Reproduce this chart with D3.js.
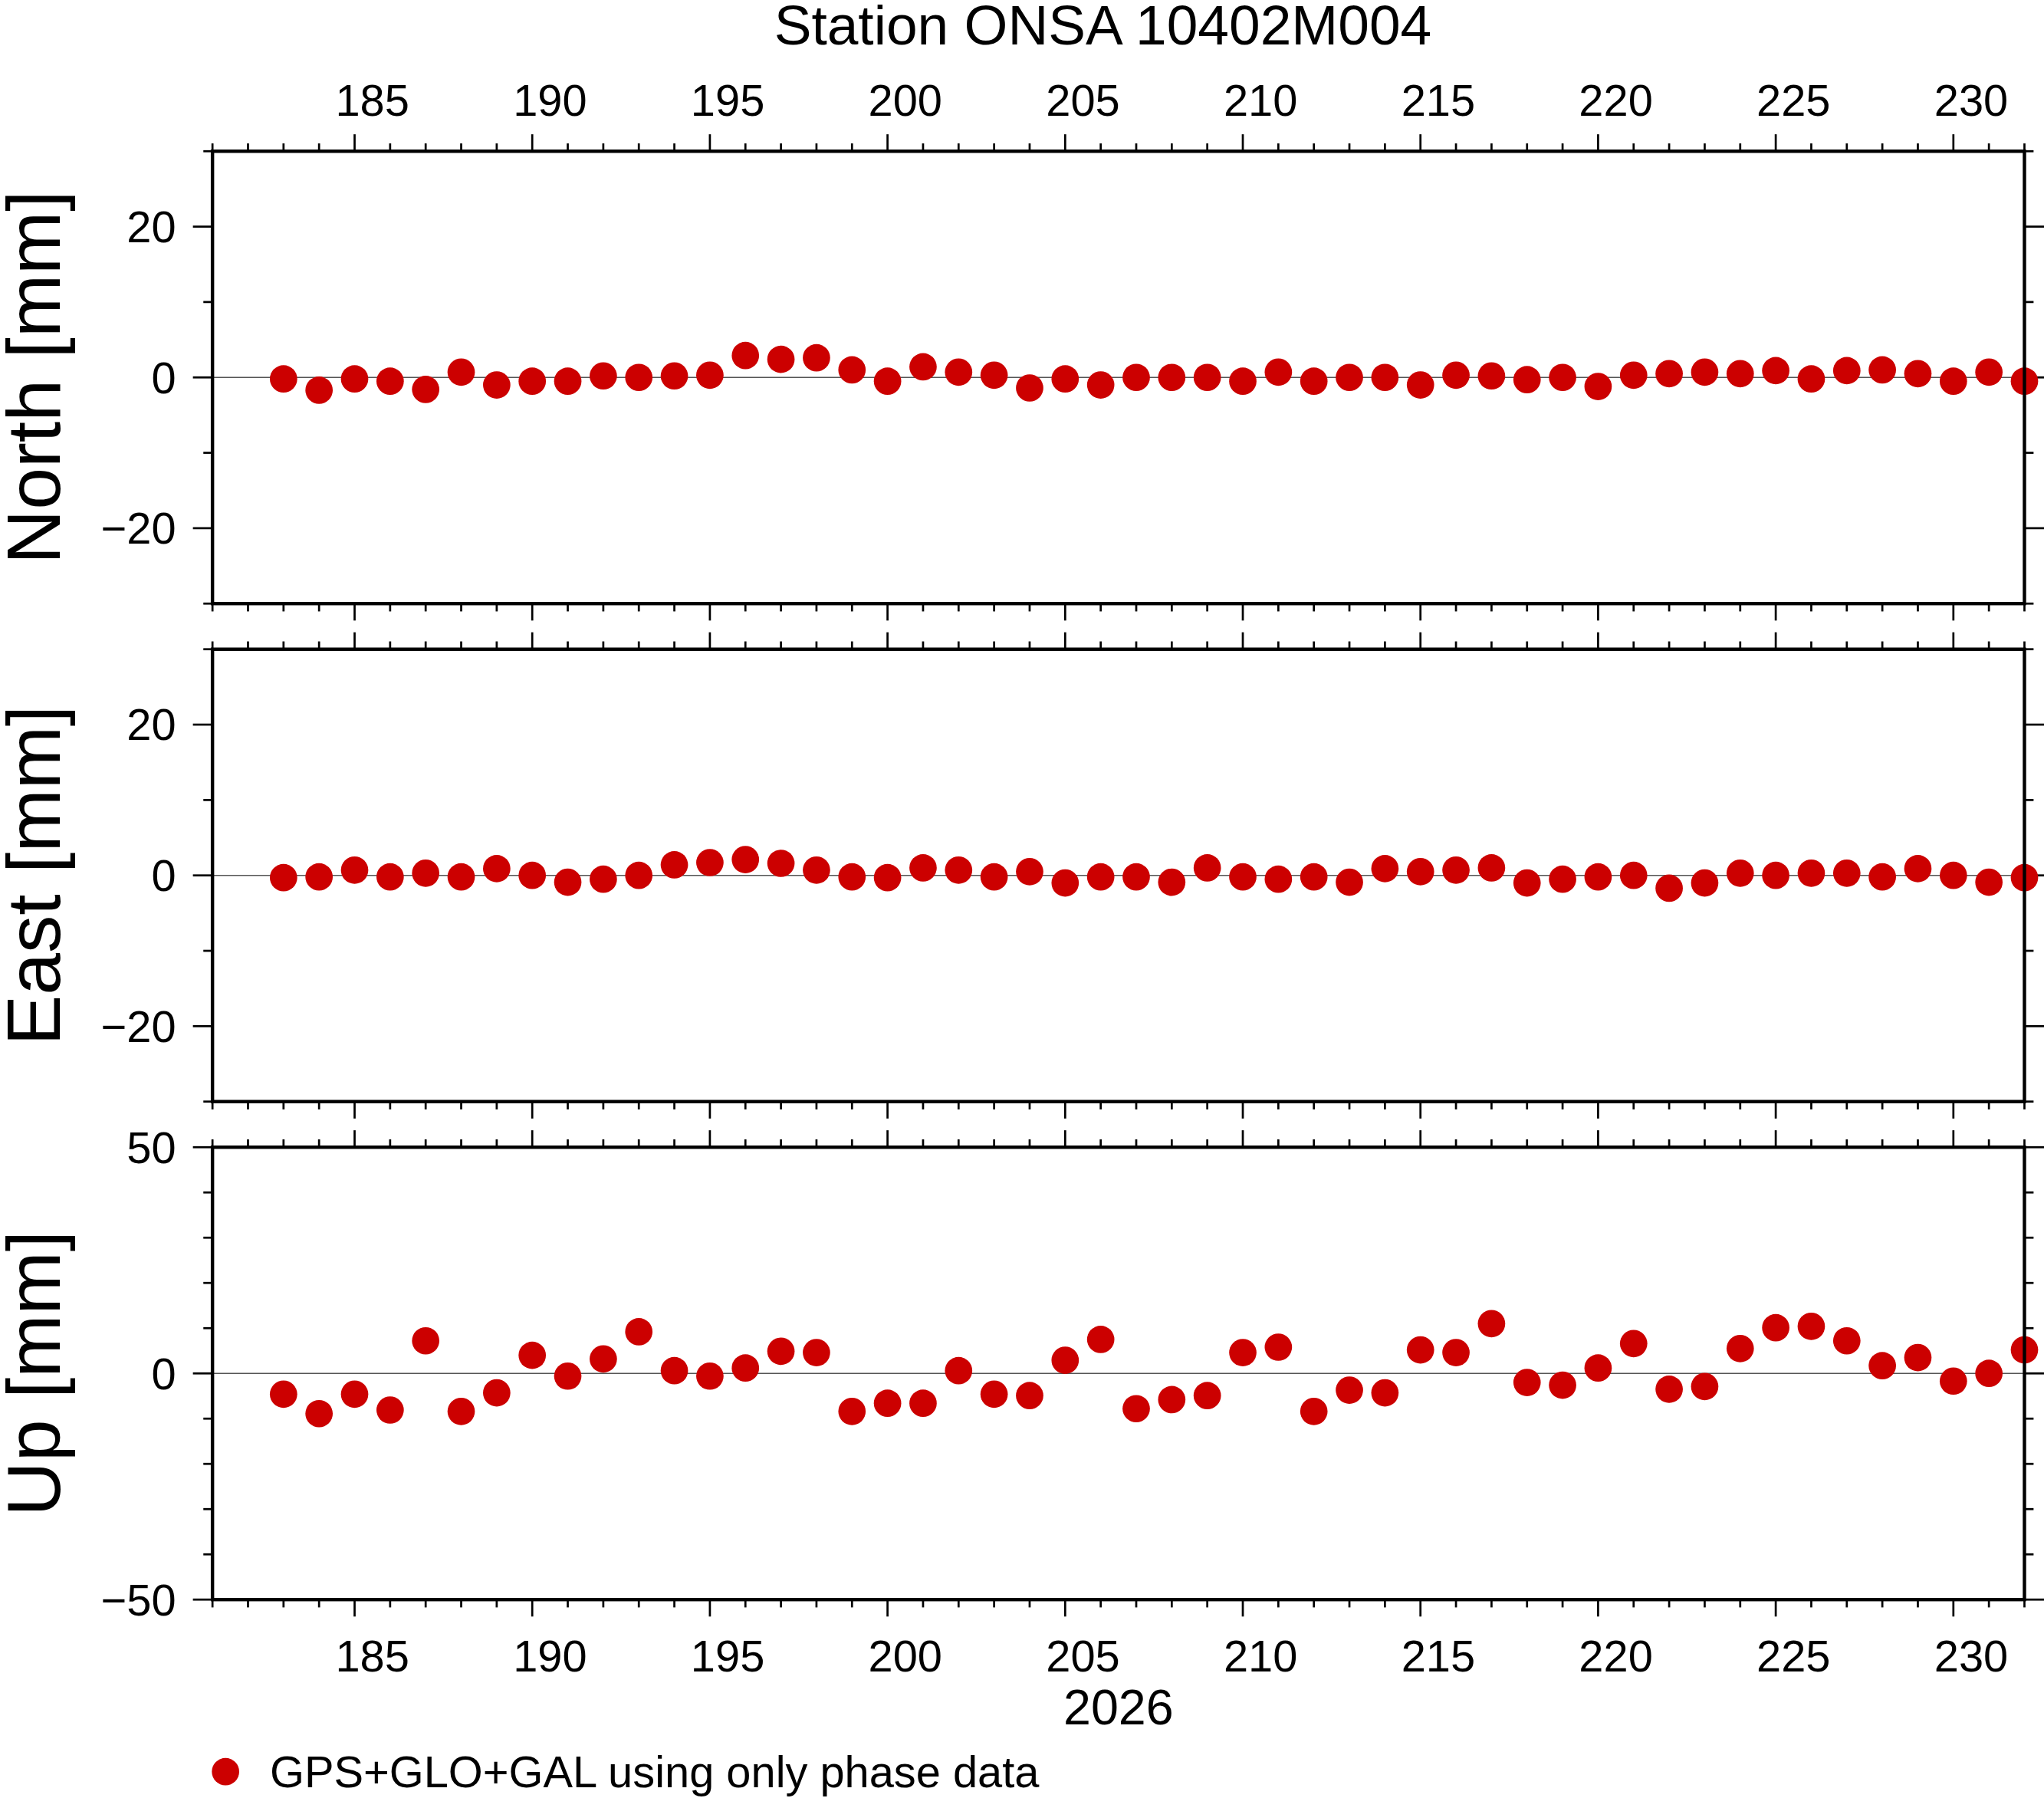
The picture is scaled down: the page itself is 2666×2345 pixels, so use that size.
<!DOCTYPE html>
<html lang="en">
<head>
<meta charset="UTF-8">
<title>Station ONSA 10402M004</title>
<script src="https://cdn.jsdelivr.net/npm/d3@7.9.0/dist/d3.min.js"></script>
<style>
    body { margin: 0; background: #fff; }
    svg { display: block; font-family: "Liberation Sans", Arial, sans-serif; }
</style>
</head>
<body>
<svg id="chart"></svg>
<script>
    // --- data ---
    const days = d3.range(183, 233);
    const north = [-0.2,-1.7,-0.2,-0.5,-1.6,0.7,-1.0,-0.5,-0.5,0.2,0,0.2,0.3,2.9,2.4,2.6,1.0,-0.5,1.4,0.7,
        0.3,-1.4,-0.2,-1.0,0,0,0,-0.5,0.7,-0.5,0,0,-1.0,0.3,0.2,-0.3,0,-1.2,0.3,0.5,
        0.7,0.5,0.9,-0.2,0.9,1.0,0.5,-0.5,0.7,-0.5];
    const east = [-0.3,-0.2,0.7,-0.2,0.3,-0.2,0.9,0,-0.9,-0.5,0,1.4,1.7,2.1,1.6,0.7,-0.2,-0.3,1.0,0.7,
        -0.2,0.5,-1.0,-0.2,-0.2,-0.9,1.0,-0.2,-0.5,-0.2,-0.9,0.9,0.5,0.7,1.0,-1.0,-0.5,-0.2,0,-1.7,
        -1.0,0.3,0,0.3,0.3,-0.2,0.9,0,-0.9,-0.3];
    const up = [-4.6,-8.9,-4.6,-8.1,7.2,-8.4,-4.3,4.0,-0.6,3.2,9.2,0.6,-0.6,1.2,4.9,4.6,-8.4,-6.6,-6.6,0.6,
        -4.6,-4.9,2.9,7.5,-7.8,-5.8,-4.9,4.6,5.8,-8.4,-3.7,-4.3,5.2,4.6,11.0,-2.0,-2.6,1.2,6.6,-3.5,
        -2.9,5.5,10.1,10.4,7.2,1.7,3.5,-1.7,0,5.2];
    const xTicks = [185, 190, 195, 200, 205, 210, 215, 220, 225, 230];
    const panels = [
        { label: "North [mm]", values: north, domain: [-30, 30], major: [-20, 0, 20], minorStep: 10 },
        { label: "East [mm]", values: east, domain: [-30, 30], major: [-20, 0, 20], minorStep: 10 },
        { label: "Up [mm]", values: up, domain: [-50, 50], major: [-50, 0, 50], minorStep: 10 }
    ];

    const W = 1568, H = 1379.2;
    const svg = d3.select("#chart")
        .attr("width", 2666).attr("height", 2345)
        .attr("viewBox", `0 0 ${W} ${H}`);

    const left = 163, right = 1553;
    const x = d3.scaleLinear().domain([181, 232]).range([left, right]);
    const tops = [116, 498, 880], ph = 347;
    const red = "#cc0000";

    svg.append("text").attr("x", 846).attr("y", 34).attr("text-anchor", "middle")
        .attr("font-size", 43).text("Station ONSA 10402M004");

    panels.forEach((p, i) => {
        const top = tops[i], bot = top + ph;
        const y = d3.scaleLinear().domain(p.domain).range([bot, top]);
        const g = svg.append("g");

        // x ticks, top and bottom, outward
        d3.range(181, 233).forEach(d => {
            const len = d % 5 === 0 ? 13 : 6;
            g.append("line").attr("x1", x(d)).attr("x2", x(d)).attr("y1", top).attr("y2", top - len)
                .attr("stroke", "#000").attr("stroke-width", 1.6);
            g.append("line").attr("x1", x(d)).attr("x2", x(d)).attr("y1", bot).attr("y2", bot + len)
                .attr("stroke", "#000").attr("stroke-width", 1.6);
        });

        // y ticks, left and right
        d3.range(p.domain[0], p.domain[1] + 0.1, p.minorStep).forEach(v => {
            const len = p.major.includes(v) ? 15 : 7;
            g.append("line").attr("x1", left).attr("x2", left - len).attr("y1", y(v)).attr("y2", y(v))
                .attr("stroke", "#000").attr("stroke-width", 1.6);
            g.append("line").attr("x1", right).attr("x2", right + len).attr("y1", y(v)).attr("y2", y(v))
                .attr("stroke", "#000").attr("stroke-width", 1.6);
        });
        p.major.forEach(v => {
            g.append("text").attr("x", 135).attr("y", y(v) + 12).attr("text-anchor", "end")
                .attr("font-size", 34).text(String(v).replace("-", "\u2212"));
        });

        // zero line
        g.append("line").attr("x1", left).attr("x2", right).attr("y1", y(0)).attr("y2", y(0))
            .attr("stroke", "#555").attr("stroke-width", 0.8);

        // points
        g.selectAll("circle").data(p.values).enter().append("circle")
            .attr("cx", (d, j) => x(days[j])).attr("cy", d => y(d)).attr("r", 10.5).attr("fill", red);

        // frame
        g.append("rect").attr("x", left).attr("y", top).attr("width", right - left).attr("height", ph)
            .attr("fill", "none").attr("stroke", "#000").attr("stroke-width", 2.6);

        g.append("text").attr("transform", `translate(46,${top + ph / 2}) rotate(-90)`)
            .attr("text-anchor", "middle").attr("font-size", 58).text(p.label);
    });

    // x labels (annotations centred on the day interval)
    xTicks.forEach(d => {
        svg.append("text").attr("x", x(d + 0.5)).attr("y", 89).attr("text-anchor", "middle")
            .attr("font-size", 34).text(d);
        svg.append("text").attr("x", x(d + 0.5)).attr("y", 1282).attr("text-anchor", "middle")
            .attr("font-size", 34).text(d);
    });
    svg.append("text").attr("x", 858).attr("y", 1323).attr("text-anchor", "middle")
        .attr("font-size", 38).text("2026");

    // legend
    svg.append("circle").attr("cx", 173).attr("cy", 1359).attr("r", 10.5).attr("fill", red);
    svg.append("text").attr("x", 207).attr("y", 1371).attr("font-size", 34)
        .text("GPS+GLO+GAL using only phase data");
</script>
</body>
</html>
